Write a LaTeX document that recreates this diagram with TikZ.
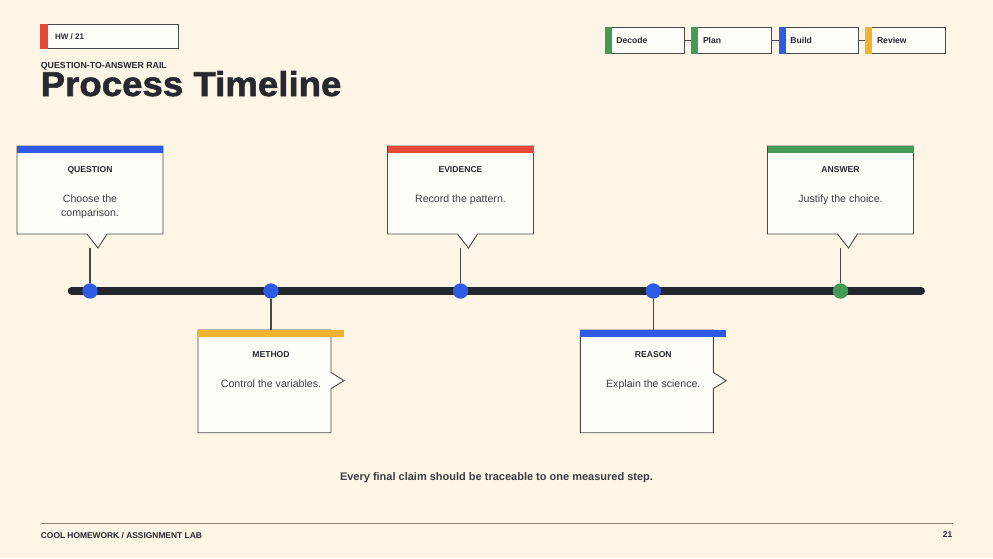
\documentclass[tikz,border=0pt]{standalone}
\usepackage{fontspec}
\setmainfont{Liberation Sans}
\newfontfamily\titlefont{Liberation Sans Bold}[FakeBold=1.6, FakeStretch=1.062]
\definecolor{bg}{HTML}{FDF5E5}
\definecolor{cardfill}{HTML}{FFFDF8}
\definecolor{cardline}{HTML}{4A4A4A}
\definecolor{ink}{HTML}{262A30}
\definecolor{ink2}{HTML}{3A3E44}
\definecolor{rail}{HTML}{23272D}
\definecolor{cblue}{HTML}{2F5BE4}
\definecolor{cred}{HTML}{E64A38}
\definecolor{cgreen}{HTML}{439B55}
\definecolor{cyellow}{HTML}{F0B232}
\definecolor{footline}{HTML}{8C857A}
\tikzset{
  card/.style={fill=cardfill, draw=cardline, line width=0.9pt, line join=miter},
  legbox/.style={fill=cardfill, draw=cardline, line width=0.9pt, inner sep=0pt},
  legtxt/.style={font=\fontsize{8.6}{10}\selectfont\bfseries, text=ink, inner sep=0pt},
  legconn/.style={draw=cardline, line width=0.9pt},
  stem/.style={draw=rail!85, line width=1.4pt},
  raildot/.style={circle, inner sep=0pt, minimum size=15.4pt, fill=#1},
  hdr/.style={font=\fontsize{8.6}{10}\selectfont\bfseries, text=ink, anchor=base, inner sep=0pt},
  bodytxt/.style={font=\fontsize{10.6}{14}\selectfont, text=ink2, align=center, inner sep=0pt},
}
\newcommand\TopCard[5]{%
  \draw[card] ({#2-73},146) -- ({#2+73},146) -- ({#2+73},234) -- ({#2+17},234) -- ({#2+8},248) -- ({#2-3},234) -- ({#2-73},234) -- cycle;
  \fill[#3] ({#2-73},145.5) rectangle ({#2+73},152.5);
  \node[hdr] (#1-head) at (#2,172.3) {#4};
  \node[bodytxt, anchor=base] (#1-body) at (#2,202.4) {#5};
}
\newcommand\BotCard[5]{%
  \draw[card] ({#2-73},330) -- ({#2+60},330) -- ({#2+60},372.4) -- ({#2+73},380.7) -- ({#2+60},388.6) -- ({#2+60},432.7) -- ({#2-73},432.7) -- cycle;
  \fill[#3] ({#2-73},330) rectangle ({#2+73},337);
  \node[hdr] (#1-head) at (#2,357.3) {#4};
  \node[bodytxt, anchor=base] (#1-body) at (#2,387.3) {#5};
}
\begin{document}
\begin{tikzpicture}[x=1pt,y=-1pt]
\useasboundingbox[fill=bg] (0,0) rectangle (993,558);

% header tag
\node[legbox, anchor=north west, minimum width=138pt, minimum height=24pt] (hwbox) at (40,24.3) {};
\fill[cred] (hwbox.north west) rectangle ([xshift=7.5pt]hwbox.south west);
\node[legtxt, anchor=west, font=\fontsize{8}{10}\selectfont\bfseries] (hwtxt) at (55,36.3) {HW / 21};

% titles
\node[anchor=base west, inner sep=0pt, font=\fontsize{8.8}{10}\selectfont\bfseries, text=ink] (sub) at (40.7,68.3) {QUESTION-TO-ANSWER RAIL};
\node[anchor=base west, inner sep=0pt, font=\fontsize{34.5}{40}\titlefont, text=ink] (title) at (40.5,96) {Process Timeline};

% legend
\node[legbox, anchor=north west, minimum width=79.6pt, minimum height=26pt] (lg1) at (604.7,27.3) {};
\node[legbox, anchor=north west, minimum width=80pt, minimum height=26pt] (lg2) at (691.3,27.3) {};
\node[legbox, anchor=north west, minimum width=79.6pt, minimum height=26pt] (lg3) at (778.7,27.3) {};
\node[legbox, anchor=north west, minimum width=79.4pt, minimum height=26pt] (lg4) at (865.3,27.3) {};
\fill[cgreen] (lg1.north west) rectangle ([xshift=6.8pt]lg1.south west);
\fill[cgreen] (lg2.north west) rectangle ([xshift=6.8pt]lg2.south west);
\fill[cblue] (lg3.north west) rectangle ([xshift=6.8pt]lg3.south west);
\fill[cyellow] (lg4.north west) rectangle ([xshift=6.8pt]lg4.south west);
\node[legtxt, anchor=west] (lt1) at ([xshift=11.5pt]lg1.west) {Decode};
\node[legtxt, anchor=west] (lt2) at ([xshift=11.5pt]lg2.west) {Plan};
\node[legtxt, anchor=west] (lt3) at ([xshift=11.5pt]lg3.west) {Build};
\node[legtxt, anchor=west] (lt4) at ([xshift=11.5pt]lg4.west) {Review};
\draw[legconn] (lg1.east) -- (lg2.west);
\draw[legconn] (lg2.east) -- (lg3.west);
\draw[legconn] (lg3.east) -- (lg4.west);

% rail
\coordinate (railL) at (71.7,291);
\coordinate (railR) at (921,291);
\draw[rail, line width=8pt, line cap=round] (railL) -- (railR);

% cards
\TopCard{q}{90}{cblue}{QUESTION}{}
\node[bodytxt] (q-text) at (90,206.6) {Choose the\\comparison.};
\TopCard{e}{460.5}{cred}{EVIDENCE}{Record the pattern.}
\TopCard{a}{840.5}{cgreen}{ANSWER}{Justify the choice.}
\BotCard{m}{271}{cyellow}{METHOD}{Control the variables.}
\BotCard{r}{653.3}{cblue}{REASON}{Explain the science.}

% dots
\node[raildot=cblue] (dq) at (90,291) {};
\node[raildot=cblue] (dm) at (271,291) {};
\node[raildot=cblue] (de) at (460.5,291) {};
\node[raildot=cblue] (dr) at (653.3,291) {};
\node[raildot=cgreen] (da) at (840.5,291) {};

% stems
\coordinate (q-end) at (90,248);
\coordinate (e-end) at (460.5,248);
\coordinate (a-end) at (840.5,248);
\coordinate (m-end) at (271,330);
\coordinate (r-end) at (653.3,330);
\draw[stem] (q-end) -- (dq.north);
\draw[stem] (e-end) -- (de.north);
\draw[stem] (a-end) -- (da.north);
\draw[stem] (dm.south) -- (m-end);
\draw[stem] (dr.south) -- (r-end);

% note
\node[inner sep=0pt, font=\fontsize{11}{13}\selectfont\bfseries, text=ink2] (note) at (496.5,477.3) {Every final claim should be traceable to one measured step.};

% footer
\coordinate (fL) at (40.5,523.3);
\coordinate (fR) at (952.5,523.3);
\draw[footline, line width=1.3pt] (fL) -- (fR);
\node[anchor=west, inner sep=0pt, font=\fontsize{8.4}{10}\selectfont\bfseries, text=ink] (foot) at (40.7,535.5) {COOL HOMEWORK / ASSIGNMENT LAB};
\node[anchor=east, inner sep=0pt, font=\fontsize{8.4}{10}\selectfont\bfseries, text=ink] (page) at (952.5,534.5) {21};
\end{tikzpicture}
\end{document}
